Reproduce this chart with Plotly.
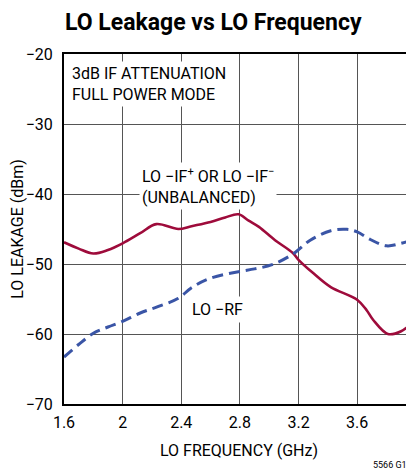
import plotly.graph_objects as go

# LO -IF+ / LO -IF- (unbalanced), solid red
if_freq = [1.6, 1.7, 1.8, 1.9, 2.0, 2.12, 2.23, 2.38, 2.47, 2.6, 2.7, 2.79, 2.86, 2.93, 3.04, 3.16,
           3.2, 3.3, 3.42, 3.6, 3.665, 3.71, 3.81, 3.9, 3.99]
if_leak = [-46.9, -47.8, -48.5, -48.0, -47.05, -45.6, -44.3, -45.0, -44.6, -44.0, -43.35, -42.9, -43.8,
           -44.7, -46.6, -48.4, -49.4, -51.3, -53.3, -55.1, -56.6, -58.0, -60.0, -59.6, -58.1]

# LO -RF, dashed blue
rf_freq = [1.6, 1.7, 1.8, 1.9, 2.0, 2.12, 2.24, 2.38, 2.47, 2.59, 2.79, 2.9, 3.02, 3.16, 3.28, 3.42,
           3.53, 3.6, 3.69, 3.8, 3.9, 3.99]
rf_leak = [-63.3, -61.5, -59.9, -59.0, -58.2, -57.0, -56.1, -54.9, -53.4, -52.1, -51.1, -50.7, -50.1,
           -48.6, -46.6, -45.25, -45.05, -45.4, -46.5, -47.4, -47.05, -46.5]

x_ticks = [1.6, 2.0, 2.4, 2.8, 3.2, 3.6]
x_labels = ["1.6", "2", "2.4", "2.8", "3.2", "3.6"]
y_ticks = [-70, -60, -50, -40, -30, -20]
y_labels = ["\u221270", "\u221260", "\u221250", "\u221240", "\u221230", "\u221220"]

FONT = "Roboto, Liberation Sans, sans-serif"
FS = 16

# the page puts an 8px body margin round the figure, so the figure is 8px smaller each way
W, H = 406, 464
L, T, B = 56, 46, 68

fig = go.Figure()
fig.add_trace(go.Scatter(x=if_freq, y=if_leak, mode="lines", line_shape="spline",
                         line=dict(color="#9E0B3B", width=2.6), showlegend=False))
fig.add_trace(go.Scatter(x=rf_freq, y=rf_leak, mode="lines", line_shape="spline",
                         line=dict(color="#3A55A6", width=3, dash="11px,6px"), showlegend=False))

# text labels on white boxes
fig.add_annotation(x=1.635, y=-21.0, xanchor="left", yanchor="top", align="left",
                   text="3dB IF ATTENUATION<br>FULL POWER MODE", showarrow=False,
                   bgcolor="white", borderpad=2, font=dict(size=FS, color="black"))
fig.add_annotation(x=2.115, y=-38.8, xanchor="left", yanchor="middle", align="left",
                   text="LO \u2212IF<sup>+</sup> OR LO \u2212IF<sup>\u2212</sup><br>(UNBALANCED)",
                   showarrow=False, bgcolor="white", borderpad=2, font=dict(size=FS, color="black"))
fig.add_annotation(x=2.649, y=-56.5, xanchor="center", yanchor="middle",
                   text="LO \u2212RF", showarrow=False, bgcolor="white", borderpad=3,
                   font=dict(size=FS, color="black"))

# last x tick label sits past the cropped right edge
fig.add_annotation(xref="paper", yref="paper", x=1.001, y=-0.05, xanchor="center", yanchor="middle",
                   text="4", showarrow=False, font=dict(size=FS, color="black"))
fig.add_annotation(xref="paper", yref="paper", x=0.878, y=-0.173, xanchor="left", yanchor="middle",
                   text="5566 G17", showarrow=False, font=dict(size=9, color="black"))

fig.update_layout(
    width=W, height=H,
    margin=dict(l=L, r=0, t=T, b=B, autoexpand=False),
    paper_bgcolor="white", plot_bgcolor="white",
    font=dict(family=FONT, size=FS, color="black"),
    title=dict(text="<b>LO Leakage vs LO Frequency</b>", x=57 / W, xanchor="left",
               y=1 - 14 / H, yanchor="middle", yref="container",
               font=dict(family=FONT, size=23, color="black")),
)
fig.update_xaxes(range=[1.6, 3.988], tickvals=x_ticks, ticktext=x_labels,
                 showgrid=True, gridcolor="#555555", gridwidth=1,
                 showline=True, linecolor="black", linewidth=2, mirror=True,
                 ticks="", ticklabelstandoff=3, zeroline=False,
                 title=dict(text="LO FREQUENCY (GHz)", standoff=14, font=dict(size=FS)))
fig.update_yaxes(range=[-70, -20], tickvals=y_ticks, ticktext=y_labels,
                 showgrid=True, gridcolor="#555555", gridwidth=1,
                 showline=True, linecolor="black", linewidth=2, mirror=False,
                 ticks="", ticklabelstandoff=6, zeroline=False,
                 title=dict(text="LO LEAKAGE (dBm)", standoff=10, font=dict(size=FS)))

fig.write_html("out.html")
